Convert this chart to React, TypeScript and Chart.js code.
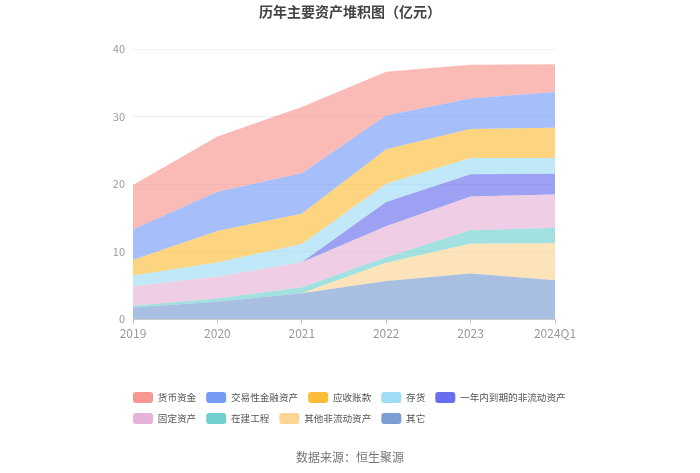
import { useEffect, useRef } from "react";
import { Chart, registerables } from "chart.js";

Chart.register(...registerables);

// Categories (x axis)
const categories = ["2019", "2020", "2021", "2022", "2023", "2024Q1"];

// Series values (亿元), stacked bottom → top
const qiTa = [1.73, 2.6, 3.85, 5.68, 6.8, 5.78]; // 其它
const qiTaFeiLiuDong = [0, 0, 0, 2.7, 4.4, 5.5]; // 其他非流动资产
const zaiJianGongCheng = [0.27, 0.5, 0.9, 0.8, 2.0, 2.3]; // 在建工程
const guDingZiChan = [2.9, 3.2, 3.7, 4.6, 5.0, 4.9]; // 固定资产
const yiNianNeiDaoQi = [0, 0, 0, 3.6, 3.3, 3.1]; // 一年内到期的非流动资产
const cunHuo = [1.6, 2.1, 2.7, 2.7, 2.4, 2.3]; // 存货
const yingShouZhangKuan = [2.3, 4.7, 4.5, 5.1, 4.3, 4.5]; // 应收账款
const jiaoYiXingJinRong = [4.5, 5.8, 6.0, 5.0, 4.5, 5.3]; // 交易性金融资产
const huoBiZiJin = [6.6, 8.2, 9.8, 6.5, 5.0, 4.1]; // 货币资金

const seriesNames = [
  "其它",
  "其他非流动资产",
  "在建工程",
  "固定资产",
  "一年内到期的非流动资产",
  "存货",
  "应收账款",
  "交易性金融资产",
  "货币资金",
];
const seriesData = [
  qiTa,
  qiTaFeiLiuDong,
  zaiJianGongCheng,
  guDingZiChan,
  yiNianNeiDaoQi,
  cunHuo,
  yingShouZhangKuan,
  jiaoYiXingJinRong,
  huoBiZiJin,
];
const seriesColors: [number, number, number][] = [
  [123, 157, 209],
  [252, 212, 147],
  [113, 207, 207],
  [230, 178, 213],
  [104, 110, 237],
  [160, 220, 246],
  [252, 189, 58],
  [118, 155, 247],
  [248, 150, 145],
];

// Y axis ticks
const yMin = 0;
const yMax = 40;
const yStep = 10;

const titleText = "历年主要资产堆积图（亿元）";
const sourceText = "数据来源：恒生聚源";

const FONT = '"Noto Sans CJK SC", "Noto Sans", sans-serif';

const rgba = (c: [number, number, number], a: number) =>
  `rgba(${c[0]},${c[1]},${c[2]},${a})`;

const legendShift = {
  id: "legendShift",
  afterLayout(chart: any) {
    const lg = chart.legend;
    if (lg) {
      lg.left += 11;
      lg.right += 11;
    }
  },
};

export default function App() {
  const ref = useRef<HTMLCanvasElement>(null);

  useEffect(() => {
    const canvas = ref.current;
    if (!canvas) return;
    Chart.defaults.font.family = FONT;

    const datasets = seriesNames.map((name, i) => ({
      label: name,
      data: seriesData[i],
      backgroundColor: rgba(seriesColors[i], 0.65),
      borderColor: rgba(seriesColors[i], 0.65),
      borderWidth: 0,
      pointRadius: 0,
      pointHoverRadius: 0,
      fill: i === 0 ? "origin" : "-1",
      tension: 0,
    }));

    const chart = new Chart(canvas, {
      type: "line",
      data: { labels: categories, datasets },
      plugins: [legendShift],
      options: {
        responsive: false,
        animation: false,
        devicePixelRatio: 1,
        layout: { padding: { left: 112, right: 112, top: 0, bottom: 0 } },
        plugins: {
          tooltip: { enabled: false },
          title: {
            display: true,
            text: titleText,
            color: "#444",
            font: { size: 14, weight: "bold", family: FONT },
            padding: { top: 3, bottom: 29.5 },
          },
          subtitle: {
            display: true,
            position: "bottom",
            text: sourceText,
            color: "#777",
            font: { size: 12, family: FONT },
            padding: { top: 16.6, bottom: 8 },
          },
          legend: {
            display: true,
            position: "bottom",
            align: "start",
            reverse: true,
            labels: {
              boxWidth: 20,
              boxHeight: 11,
              padding: 10,
              color: "#555",
              useBorderRadius: true,
              borderRadius: 3,
              font: { size: 9.6, family: FONT },
              generateLabels: (ch: any) =>
                ch.data.datasets.map((ds: any, i: number) => ({
                  text: ds.label,
                  fillStyle: rgba(seriesColors[i], 1),
                  strokeStyle: "rgba(0,0,0,0)",
                  lineWidth: 0,
                  hidden: false,
                  datasetIndex: i,
                  borderRadius: 3,
                  fontColor: "#555",
                })),
            },
          },
        },
        scales: {
          x: {
            type: "category",
            offset: false,
            grid: {
              display: true,
              drawOnChartArea: false,
              drawTicks: true,
              tickLength: 5,
              color: "#ccc",
            },
            border: { display: true, color: "#ccc" },
            ticks: {
              color: "#999",
              padding: 2,
              maxRotation: 0,
              autoSkip: false,
              font: { size: 12, family: FONT },
            },
            afterFit: (s: any) => {
              s.height = 62.7;
            },
          },
          y: {
            type: "linear",
            stacked: true,
            min: yMin,
            max: yMax,
            ticks: {
              stepSize: yStep,
              color: "#999",
              padding: 8,
              font: { size: 11, family: FONT },
            },
            grid: { color: "#eee", drawTicks: false },
            border: { display: false },
            afterFit: (s: any) => {
              s.width = 21;
            },
          },
          r: {
            type: "linear",
            position: "right",
            display: true,
            grid: { display: false },
            ticks: { display: false },
            border: { display: false },
            afterFit: (s: any) => {
              s.width = 33;
            },
          },
        },
      } as any,
    });

    return () => chart.destroy();
  }, []);

  return (
    <div style={{ position: "absolute", left: 0, top: 0, width: 700, height: 473 }}>
      <canvas ref={ref} width={700} height={473} style={{ width: 700, height: 473 }} />
    </div>
  );
}
